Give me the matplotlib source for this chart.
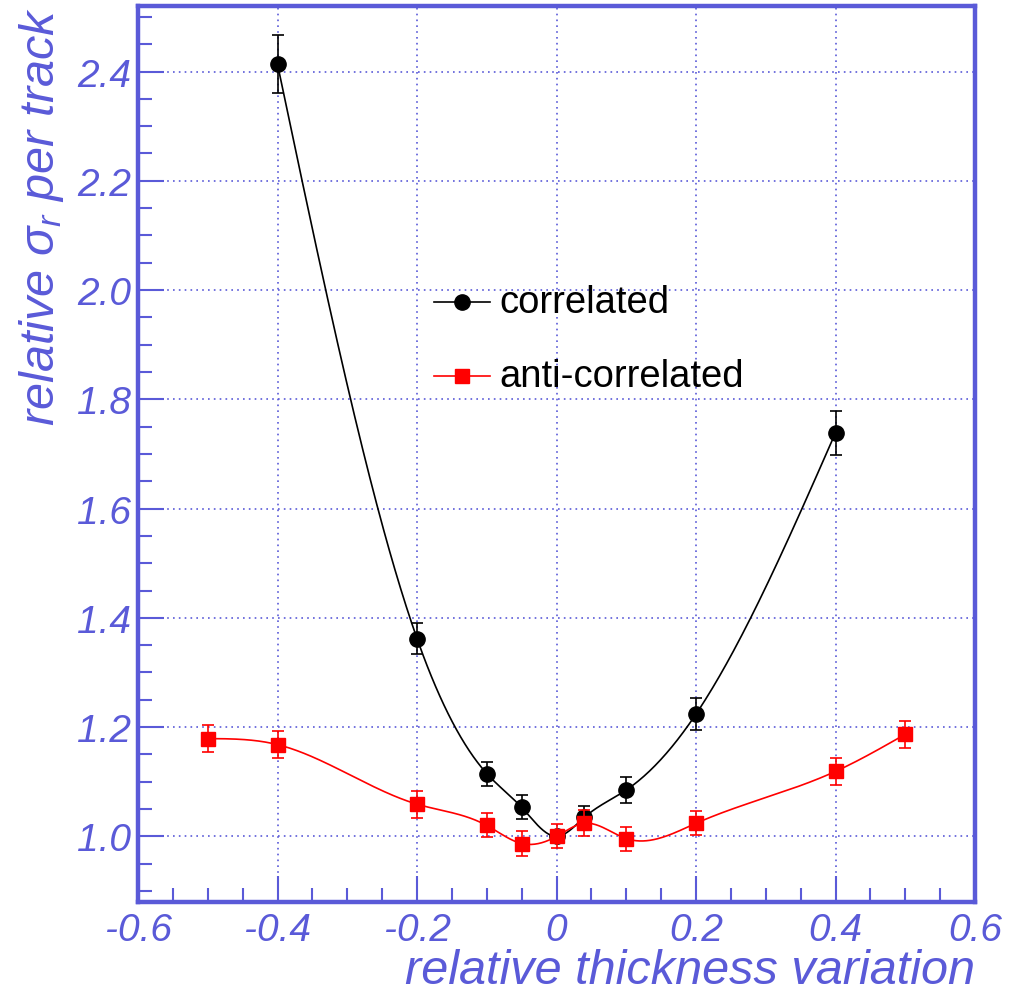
import numpy as np
import matplotlib
matplotlib.use("Agg")
import matplotlib.pyplot as plt
from matplotlib.ticker import MultipleLocator, FuncFormatter

plt.rcParams["font.family"] = ["Liberation Sans", "DejaVu Sans"]
plt.rcParams["mathtext.fontset"] = "custom"
plt.rcParams["mathtext.rm"] = "Liberation Sans:italic"
plt.rcParams["mathtext.it"] = "Liberation Sans:italic"

BLUE = "#5a5ad8"

# correlated thickness variation
corr_x = [-0.4, -0.2, -0.1, -0.05, 0.0, 0.04, 0.1, 0.2, 0.4]
corr_y = [2.413, 1.362, 1.115, 1.053, 1.0, 1.035, 1.085, 1.224, 1.739]
corr_err = [0.053, 0.028, 0.022, 0.022, 0.0, 0.02, 0.024, 0.029, 0.04]

# anti-correlated thickness variation
anti_x = [-0.5, -0.4, -0.2, -0.1, -0.05, 0.0, 0.04, 0.1, 0.2, 0.4, 0.5]
anti_y = [1.179, 1.168, 1.059, 1.02, 0.987, 1.0, 1.024, 0.996, 1.024, 1.119, 1.187]
anti_err = [0.025, 0.025, 0.025, 0.022, 0.022, 0.022, 0.024, 0.022, 0.022, 0.025, 0.025]


def spline(x, y, n=400):
    """Natural cubic spline through the points (like ROOT's "C" option)."""
    x = np.asarray(x, float)
    y = np.asarray(y, float)
    k = len(x)
    h = np.diff(x)
    A = np.zeros((k, k))
    b = np.zeros(k)
    A[0, 0] = A[-1, -1] = 1.0
    for i in range(1, k - 1):
        A[i, i - 1] = h[i - 1]
        A[i, i] = 2 * (h[i - 1] + h[i])
        A[i, i + 1] = h[i]
        b[i] = 6 * ((y[i + 1] - y[i]) / h[i] - (y[i] - y[i - 1]) / h[i - 1])
    m = np.linalg.solve(A, b)
    xs = np.linspace(x[0], x[-1], n)
    idx = np.clip(np.searchsorted(x, xs) - 1, 0, k - 2)
    x0, x1 = x[idx], x[idx + 1]
    hh = x1 - x0
    t0, t1 = x1 - xs, xs - x0
    ys = (m[idx] * t0 ** 3 + m[idx + 1] * t1 ** 3) / (6 * hh) \
        + (y[idx] / hh - m[idx] * hh / 6) * t0 \
        + (y[idx + 1] / hh - m[idx + 1] * hh / 6) * t1
    return xs, ys


fig = plt.figure(figsize=(10.21, 9.95), dpi=100)
ax = fig.add_axes([0.1352, 0.0925, 0.8198, 0.9005])

ax.set_xlim(-0.6, 0.6)
ax.set_ylim(0.88, 2.52)

ax.grid(True, which="major", color=BLUE, linestyle=(0, (1, 2.5)), linewidth=1.2)
ax.set_axisbelow(True)

sx, sy = spline(corr_x, corr_y)
ax.plot(sx, sy, color="black", lw=1.2, zorder=3)
ax.errorbar(corr_x, corr_y, yerr=corr_err, fmt="o", color="black", ms=11,
            capsize=4, elinewidth=1.2, capthick=1.2, zorder=4)

sx, sy = spline(anti_x, anti_y)
ax.plot(sx, sy, color="red", lw=1.2, zorder=5)
ax.errorbar(anti_x, anti_y, yerr=anti_err, fmt="s", color="red", ms=10.5,
            capsize=4, elinewidth=1.2, capthick=1.2, zorder=6)

# legend
ax.plot([-0.175, -0.096], [1.979, 1.979], color="black", lw=1.2)
ax.plot([-0.136], [1.979], "o", color="black", ms=11)
ax.text(-0.082, 1.979, "correlated", fontsize=27.5, va="center", ha="left")
ax.plot([-0.175, -0.096], [1.842, 1.842], color="red", lw=1.2)
ax.plot([-0.136], [1.842], "s", color="red", ms=10.5)
ax.text(-0.082, 1.842, "anti-correlated", fontsize=27.5, va="center", ha="left")

for s in ax.spines.values():
    s.set_color(BLUE)
    s.set_linewidth(3.2)

ax.xaxis.set_major_locator(MultipleLocator(0.2))
ax.xaxis.set_minor_locator(MultipleLocator(0.05))
ax.yaxis.set_major_locator(MultipleLocator(0.2))
ax.yaxis.set_minor_locator(MultipleLocator(0.05))


def xfmt(v, pos):
    return "0" if abs(v) < 1e-9 else f"{v:.1f}"


ax.xaxis.set_major_formatter(FuncFormatter(xfmt))
ax.yaxis.set_major_formatter(FuncFormatter(lambda v, p: f"{v:.1f}"))

ax.tick_params(which="both", direction="in", color=BLUE, width=1.5,
               labelcolor=BLUE, labelsize=28, top=False, right=False)
ax.tick_params(which="major", length=19)
ax.tick_params(axis="x", which="major", pad=7)
ax.tick_params(axis="y", which="major", pad=5)
ax.tick_params(which="minor", length=10)
for lab in ax.get_xticklabels() + ax.get_yticklabels():
    lab.set_style("italic")

ax.set_xlabel("relative thickness variation", fontsize=35, style="italic",
              color=BLUE, loc="right", labelpad=0)
ax.set_ylabel(r"relative $\sigma_{r}$ per track", fontsize=35, style="italic",
              color=BLUE, loc="top", labelpad=8)

fig.savefig("out.png", dpi=100)
